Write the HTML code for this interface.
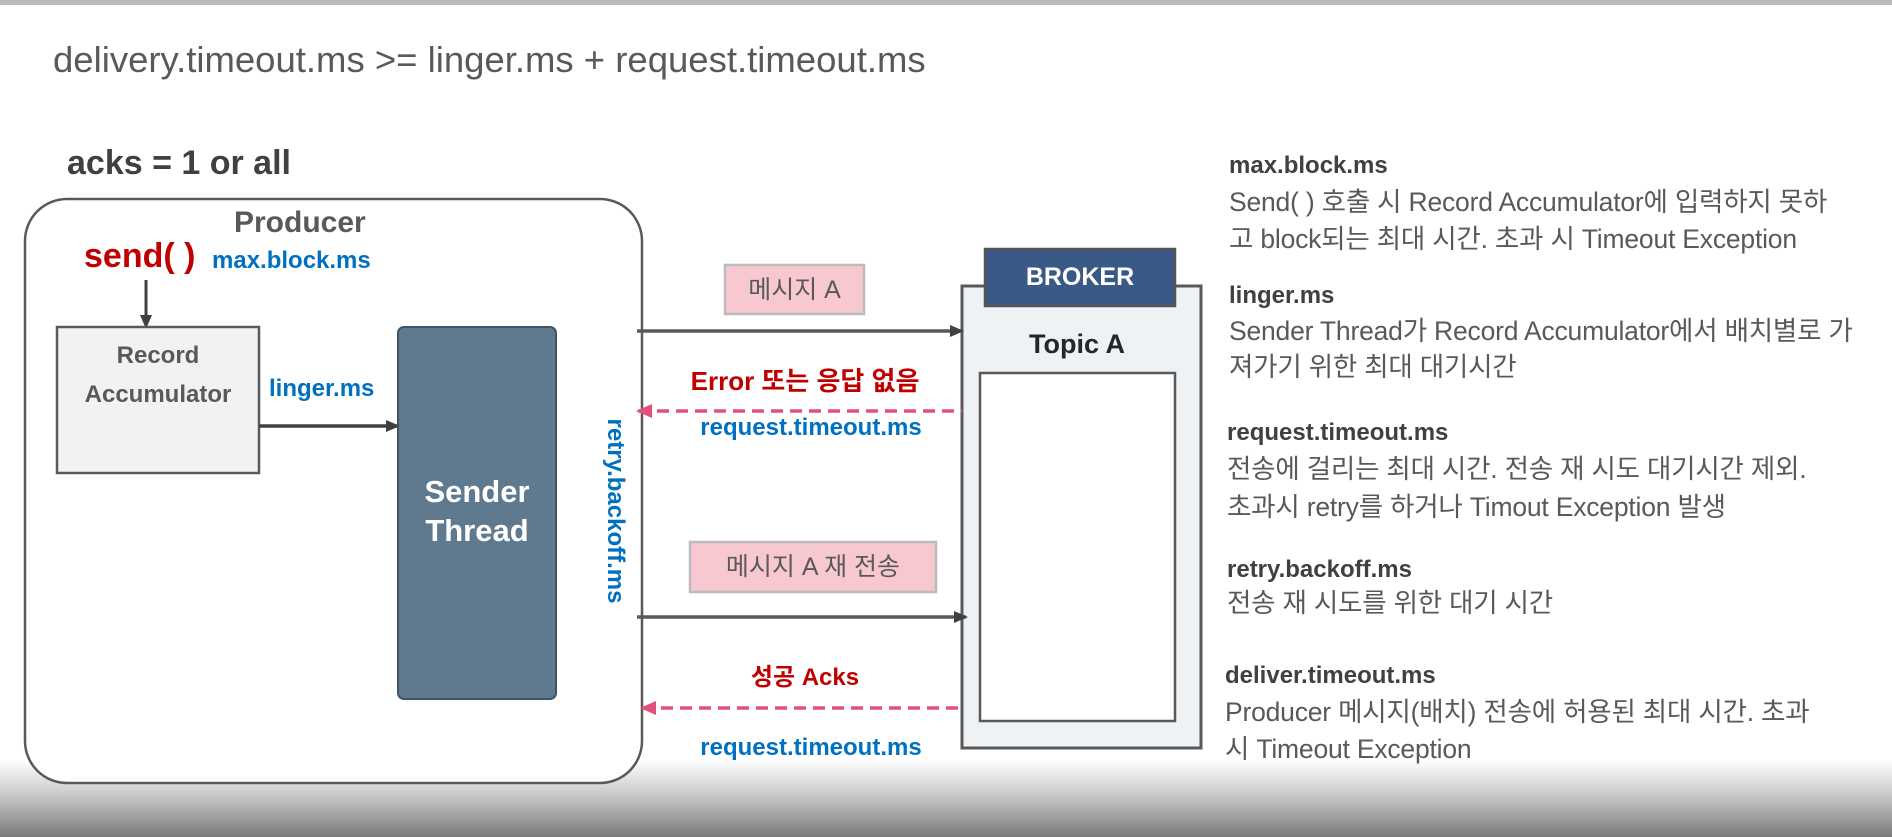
<!DOCTYPE html>
<html><head><meta charset="utf-8"><style>
body{margin:0;width:1892px;height:837px;position:relative;overflow:hidden;background:#fff;font-family:"Liberation Sans","Noto Sans CJK KR",sans-serif}
.t{position:absolute;white-space:nowrap;line-height:40px;height:40px}
.b{font-weight:bold}
.blue{color:#0070c0;font-weight:bold;font-size:24px}
.red{color:#c00000;font-weight:bold}
.h{color:#404040;font-weight:bold;font-size:24px}
.d{color:#595959;font-size:26.5px;letter-spacing:-0.2px}
</style></head><body>
<div style="position:absolute;left:0;top:0;width:1892px;height:5px;background:#bbb"></div>
<div style="position:absolute;left:0;top:760px;width:1892px;height:77px;background:linear-gradient(#fff,#d0d0d0 40%,#7a7a7a)"></div>
<svg width="1892" height="837" style="position:absolute;left:0;top:0">
<defs>
<marker id="a" markerWidth="14" markerHeight="14" refX="12" refY="7" orient="auto" markerUnits="userSpaceOnUse"><path d="M0,1 L14,7 L0,13 z" fill="#404040"/></marker>
<marker id="p" markerWidth="16" markerHeight="16" refX="2" refY="8" orient="auto" markerUnits="userSpaceOnUse"><path d="M16,1 L0,8 L16,15 z" fill="#e0507a"/></marker>
</defs>
<rect x="25" y="199" width="617" height="584" rx="42" fill="#fff" stroke="#595959" stroke-width="2.5"/>
<line x1="146" y1="280" x2="146" y2="327" stroke="#404040" stroke-width="3" marker-end="url(#a)"/>
<rect x="57" y="327" width="202" height="146" fill="#f2f2f2" stroke="#595959" stroke-width="2.5"/>
<line x1="259" y1="426" x2="398" y2="426" stroke="#404040" stroke-width="3.5" marker-end="url(#a)"/>
<rect x="398" y="327" width="158" height="372" rx="6" fill="#5f7a8e" stroke="#3f5566" stroke-width="2"/>
<rect x="962" y="286" width="239" height="462" fill="#eef2f4" stroke="#595959" stroke-width="3"/>
<rect x="985" y="249" width="190" height="57" fill="#3a5a85" stroke="#555" stroke-width="2.5"/>
<rect x="980" y="373" width="195" height="348" fill="#fff" stroke="#595959" stroke-width="2.5"/>
<rect x="725" y="265" width="139" height="49" fill="#f8c8d0" stroke="#bbb" stroke-width="2.5"/>
<rect x="690" y="542" width="246" height="50" fill="#f8c8d0" stroke="#bbb" stroke-width="2.5"/>
<line x1="637" y1="331" x2="962" y2="331" stroke="#595959" stroke-width="3.5" marker-end="url(#a)"/>
<line x1="638" y1="411" x2="962" y2="411" stroke="#e0507a" stroke-width="3.5" stroke-dasharray="12,7" marker-start="url(#p)"/>
<line x1="637" y1="617" x2="966" y2="617" stroke="#595959" stroke-width="3.5" marker-end="url(#a)"/>
<line x1="642" y1="708" x2="965" y2="708" stroke="#e0507a" stroke-width="3.5" stroke-dasharray="12,7" marker-start="url(#p)"/>
</svg>
<div class="t" style="left:53px;top:40px;font-size:36.5px;color:#595959">delivery.timeout.ms &gt;= linger.ms + request.timeout.ms</div>
<div class="t b" style="left:67px;top:143px;font-size:34px;color:#404040">acks = 1 or all</div>
<div class="t b" style="left:234px;top:203px;font-size:30px;color:#595959">Producer</div>
<div class="t red" style="left:84px;top:236px;font-size:34px">send( )</div>
<div class="t blue" style="left:212px;top:241px">max.block.ms</div>
<div class="t b" style="left:57px;width:202px;text-align:center;top:336px;font-size:24px;color:#595959">Record</div>
<div class="t b" style="left:57px;width:202px;text-align:center;top:375px;font-size:24px;color:#595959">Accumulator</div>
<div class="t blue" style="left:269px;top:369px">linger.ms</div>
<div class="t b" style="left:398px;width:158px;text-align:center;top:472px;font-size:31px;color:#fff">Sender</div>
<div class="t b" style="left:398px;width:158px;text-align:center;top:511px;font-size:31px;color:#fff">Thread</div>
<div class="t blue" style="left:515px;top:491px;width:200px;text-align:center;transform:rotate(90deg)">retry.backoff.ms</div>
<div class="t" style="left:725px;width:139px;text-align:center;top:270px;font-size:25px;color:#595959">메시지 A</div>
<div class="t" style="left:690px;width:246px;text-align:center;top:547px;font-size:25px;color:#595959">메시지 A 재 전송</div>
<div class="t red" style="left:655px;width:300px;text-align:center;top:361px;font-size:26px">Error 또는 응답 없음</div>
<div class="t blue" style="left:661px;width:300px;text-align:center;top:408px">request.timeout.ms</div>
<div class="t red" style="left:655px;width:300px;text-align:center;top:658px;font-size:24px">성공 Acks</div>
<div class="t blue" style="left:661px;width:300px;text-align:center;top:728px">request.timeout.ms</div>
<div class="t b" style="left:985px;width:190px;text-align:center;top:257px;font-size:25px;color:#fff">BROKER</div>
<div class="t b" style="left:962px;width:230px;text-align:center;top:324px;font-size:27px;color:#262626">Topic A</div>
<div class="t h" style="left:1229px;top:146px">max.block.ms</div>
<div class="t d" style="left:1229px;top:182px">Send( ) 호출 시 Record Accumulator에 입력하지 못하</div>
<div class="t d" style="left:1229px;top:219px">고 block되는 최대 시간. 초과 시 Timeout Exception</div>
<div class="t h" style="left:1229px;top:276px">linger.ms</div>
<div class="t d" style="left:1229px;top:311px">Sender Thread가 Record Accumulator에서 배치별로 가</div>
<div class="t d" style="left:1229px;top:347px">져가기 위한 최대 대기시간</div>
<div class="t h" style="left:1227px;top:413px">request.timeout.ms</div>
<div class="t d" style="left:1227px;top:449px">전송에 걸리는 최대 시간. 전송 재 시도 대기시간 제외.</div>
<div class="t d" style="left:1227px;top:487px">초과시 retry를 하거나 Timout Exception 발생</div>
<div class="t h" style="left:1227px;top:550px">retry.backoff.ms</div>
<div class="t d" style="left:1227px;top:583px">전송 재 시도를 위한 대기 시간</div>
<div class="t h" style="left:1225px;top:656px">deliver.timeout.ms</div>
<div class="t d" style="left:1225px;top:692px">Producer 메시지(배치) 전송에 허용된 최대 시간. 초과</div>
<div class="t d" style="left:1225px;top:729px">시 Timeout Exception</div>
</body></html>
